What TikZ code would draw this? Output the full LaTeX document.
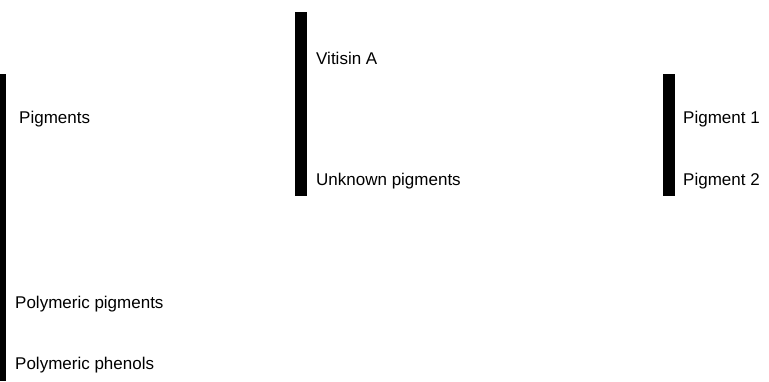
\documentclass[tikz,border=0pt]{standalone}
\usepackage{fontspec}
\setmainfont{Liberation Sans}
\begin{document}
\begin{tikzpicture}[x=1pt,y=-1pt,
  bar/.style={fill=black,draw=none},
  lbl/.style={anchor=west,inner sep=0pt,font=\fontsize{17}{20}\selectfont}]
\useasboundingbox (0,0) rectangle (769,381);
\fill[bar] (0,74) rectangle (6,381);
\fill[bar] (295,12) rectangle (307,196);
\fill[bar] (663,74) rectangle (675,196);
\node[lbl] (pig) at (19,119.5) {Pigments};
\node[lbl] (vit) at (316,58.5) {Vitisin A};
\node[lbl] (unk) at (316,181.5) {Unknown pigments};
\node[lbl] (p1) at (683,119.5) {Pigment 1};
\node[lbl] (p2) at (683,181.5) {Pigment 2};
\node[lbl] (polpig) at (15,304.5) {Polymeric pigments};
\node[lbl] (polphe) at (15,365.5) {Polymeric phenols};
\end{tikzpicture}
\end{document}
